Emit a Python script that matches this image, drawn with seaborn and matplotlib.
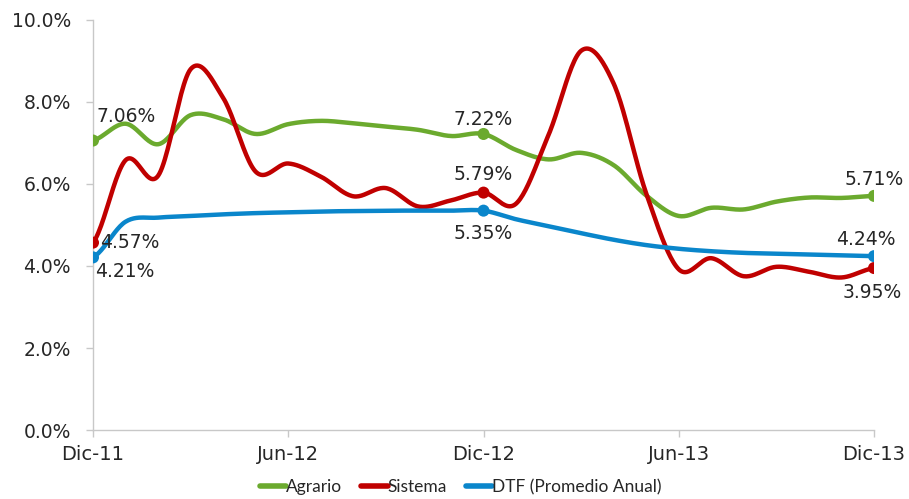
import numpy as np
import pandas as pd
import seaborn as sns
import matplotlib
matplotlib.use("Agg")
import matplotlib.pyplot as plt
from matplotlib.lines import Line2D

# Monthly series, Dic-11 .. Dic-13 (percent)
meses = ["Dic-11", "Ene-12", "Feb-12", "Mar-12", "Abr-12", "May-12", "Jun-12",
         "Jul-12", "Ago-12", "Sep-12", "Oct-12", "Nov-12", "Dic-12",
         "Ene-13", "Feb-13", "Mar-13", "Abr-13", "May-13", "Jun-13",
         "Jul-13", "Ago-13", "Sep-13", "Oct-13", "Nov-13", "Dic-13"]
agrario = [7.06, 7.47, 6.97, 7.68, 7.58, 7.22, 7.46, 7.54, 7.48, 7.40, 7.32, 7.17, 7.22,
           6.83, 6.60, 6.76, 6.46, 5.72, 5.22, 5.42, 5.38, 5.57, 5.67, 5.66, 5.71]
sistema = [4.57, 6.58, 6.20, 8.80, 8.10, 6.30, 6.50, 6.18, 5.70, 5.90, 5.45, 5.60, 5.79,
           5.52, 7.20, 9.25, 8.45, 5.77, 3.92, 4.19, 3.75, 3.98, 3.86, 3.72, 3.95]
dtf = [4.21, 5.08, 5.18, 5.22, 5.26, 5.29, 5.31, 5.33, 5.34, 5.35, 5.35, 5.35, 5.35,
       5.14, 4.97, 4.80, 4.64, 4.51, 4.42, 4.36, 4.32, 4.30, 4.28, 4.26, 4.24]

series = {"Agrario": agrario, "Sistema": sistema, "DTF (Promedio Anual)": dtf}
colores = {"Agrario": "#6BAA2E", "Sistema": "#C00000", "DTF (Promedio Anual)": "#0A86CB"}

tick_pos = [0, 6, 12, 18, 24]
tick_labels = ["Dic-11", "Jun-12", "Dic-12", "Jun-13", "Dic-13"]
marcados = [0, 12, 24]


def catmull_rom(y, steps=24):
    """Smooth curve through every monthly value (Catmull-Rom spline)."""
    y = np.asarray(y, float)
    n = len(y)
    xs, ys = [], []
    for i in range(n - 1):
        p0 = y[max(i - 1, 0)]
        p1, p2 = y[i], y[i + 1]
        p3 = y[min(i + 2, n - 1)]
        t = np.linspace(0, 1, steps, endpoint=False)
        v = 0.5 * ((2 * p1) + (-p0 + p2) * t + (2 * p0 - 5 * p1 + 4 * p2 - p3) * t ** 2
                   + (-p0 + 3 * p1 - 3 * p2 + p3) * t ** 3)
        xs.extend(i + t)
        ys.extend(v)
    xs.append(n - 1)
    ys.append(y[-1])
    return np.array(xs), np.array(ys)


frames = []
for nombre, vals in series.items():
    xs, ys = catmull_rom(vals)
    frames.append(pd.DataFrame({"mes": xs, "valor": ys, "serie": nombre}))
curvas = pd.concat(frames, ignore_index=True)

sns.set_theme(style="white")
plt.rcParams["font.family"] = ["DejaVu Sans"]

fig = plt.figure(figsize=(9.09, 4.99), dpi=100)
ax = fig.add_axes([93 / 909, 1 - 430 / 499, (874 - 93) / 909, (430 - 20) / 499])

sns.lineplot(data=curvas, x="mes", y="valor", hue="serie", palette=colores,
             sort=False, estimator=None, linewidth=3.2, ax=ax, legend=False)

for nombre, vals in series.items():
    pts = pd.DataFrame({"mes": marcados, "valor": [vals[i] for i in marcados]})
    sns.scatterplot(data=pts, x="mes", y="valor", color=colores[nombre], s=75,
                    edgecolor="none", ax=ax, legend=False, zorder=5)

# value labels at the marked months: (series, index, dx px, dy px, ha, va)
etiquetas = [
    ("Agrario", 0, 3, 15, "left", "bottom"),
    ("Sistema", 0, 7, 0, "left", "center"),
    ("DTF (Promedio Anual)", 0, 2, -5, "left", "top"),
    ("Agrario", 12, 0, 5, "center", "bottom"),
    ("Sistema", 12, 0, 9, "center", "bottom"),
    ("DTF (Promedio Anual)", 12, 0, -13, "center", "top"),
    ("Agrario", 24, 0, 7, "center", "bottom"),
    ("DTF (Promedio Anual)", 24, -8, 7, "center", "bottom"),
    ("Sistema", 24, -2, -15, "center", "top"),
]
for nombre, i, dx, dy, ha, va in etiquetas:
    v = series[nombre][i]
    ax.annotate(f"{v:.2f}%", (i, v), xytext=(dx, dy), textcoords="offset pixels",
                ha=ha, va=va, fontsize=13.5, color="#262626")

ax.set_xlim(0, 24)
ax.set_ylim(0, 10)
ax.set_xticks(tick_pos)
ax.set_xticklabels(tick_labels, fontsize=14, color="#262626")
ax.set_yticks(np.arange(0, 10.1, 2))
ax.set_yticklabels([f"{t:.1f}%" for t in np.arange(0, 10.1, 2)], fontsize=13.5,
                   color="#262626")
ax.set_xlabel("")
ax.set_ylabel("")
for s in ["top", "right"]:
    ax.spines[s].set_visible(False)
for s in ["left", "bottom"]:
    ax.spines[s].set_color("#C8C8C8")
    ax.spines[s].set_linewidth(1.0)
ax.tick_params(axis="both", which="major", direction="out", length=5, width=1,
               color="#C8C8C8", left=True, bottom=True)
ax.tick_params(axis="y", pad=11)
ax.tick_params(axis="x", pad=6)

handles = [Line2D([0], [0], color=colores[n], lw=4) for n in series]
fig.legend(handles, list(series.keys()), loc="center", bbox_to_anchor=(0.507, 0.024),
           ncol=3, frameon=False, handlelength=1.5, handletextpad=0.0,
           columnspacing=1.1, borderpad=0.1,
           prop={"family": ["Lato", "DejaVu Sans"], "size": 12.5})

fig.savefig("out.png", dpi=100, facecolor="white")
